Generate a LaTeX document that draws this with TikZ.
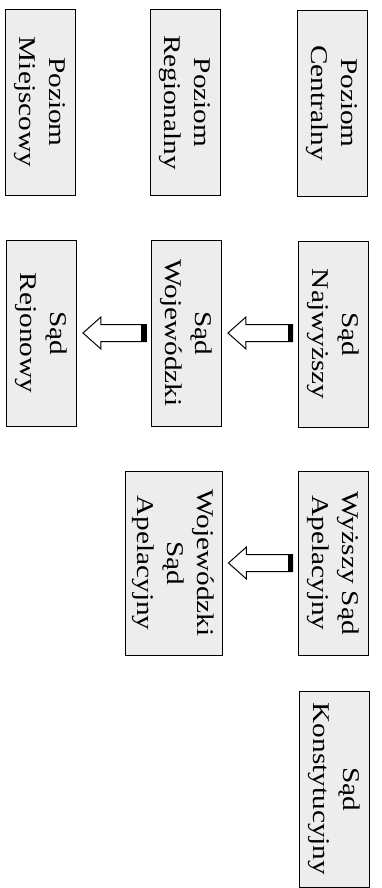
\documentclass[tikz,border=0pt]{standalone}
\usepackage{fontspec}
\setmainfont{Liberation Serif}
\usepackage{tikz}
\usetikzlibrary{calc,positioning}

% rotated two- or three-line label
\newcommand{\rlabel}[1]{\rotatebox{-90}{\scalebox{1.22}[1]{\begin{tabular}{@{}c@{}}#1\end{tabular}}}}

% hollow block arrow between two boxes
\newcommand{\blockarrow}[2]{%
    \coordinate (tip) at ($(#2.east)+(6,0)$);
    \coordinate (tail) at ($(tip -| #1.west)+(-5,0)$);
    \draw[arrowbody] (tip) -- ++(18,-16) -- ++(0,7.5) -- ($(tail)+(0,-8.5)$)
        -- ($(tail)+(0,8.5)$) -- ($(tip)+(18,8.5)$) -- ++(0,7.5) -- cycle;
    \fill ($(tail)+(-5,-9)$) rectangle ($(tail)+(0.5,9)$);
}

\begin{document}
\begin{tikzpicture}[
    x=1pt, y=-1pt,
    box/.style={rectangle, draw, line width=0.9pt, fill=black!7, inner sep=0pt,
        minimum width=70pt, minimum height=186pt,
        font=\fontsize{24}{30}\selectfont},
    arrowbody/.style={draw, fill=white, line width=1pt, line join=miter}
]
    \useasboundingbox (0,0) rectangle (381,888);

    % Levels
    \node[box] (miej) at (40,102) {\rlabel{Poziom\\Miejscowy}};
    \node[box] (reg) at (185.5,102.5) {\rlabel{Poziom\\Regionalny}};
    \node[box] (cent) at (332,103) {\rlabel{Poziom\\Centralny}};

    % Courts
    \node[box] (rej) at (41.5,333) {\rlabel{Sąd\\Rejonowy}};
    \node[box] (woj) at (186.5,333) {\rlabel{Sąd\\Wojewódzki}};
    \node[box] (naj) at (333,334) {\rlabel{Sąd\\Najwyższy}};

    \node[box, minimum height=184pt] (wsa) at (333,563) {\rlabel{Wyższy Sąd\\Apelacyjny}};
    \node[box, minimum width=97pt, minimum height=184pt] (wojsa) at (173.5,563) {\rlabel{Wojewódzki\\Sąd\\Apelacyjny}};

    \node[box, minimum height=196pt] (kon) at (334,789) {\rlabel{Sąd\\Konstytucyjny}};

    % Arrows
    \blockarrow{naj}{woj}
    \blockarrow{woj}{rej}
    \blockarrow{wsa}{wojsa}
\end{tikzpicture}
\end{document}
